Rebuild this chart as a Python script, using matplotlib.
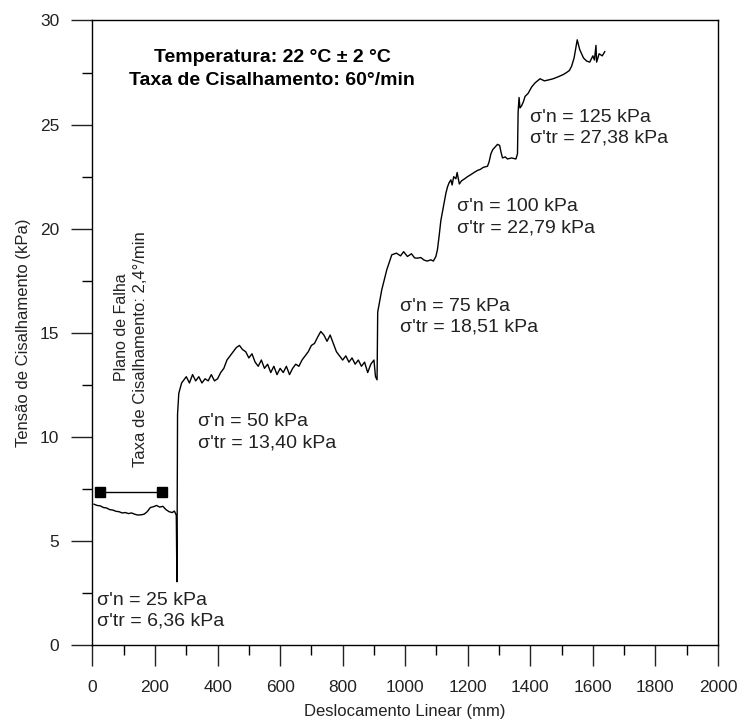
import matplotlib
matplotlib.use("Agg")
import matplotlib.pyplot as plt
from matplotlib.ticker import MultipleLocator

plt.rcParams['font.family'] = ['Liberation Sans', 'DejaVu Sans']

# Shear stress curve (mm, kPa)
disp = [5, 15, 25, 35, 45, 55, 65, 75, 85, 95, 105, 115, 125, 135, 145, 155, 165, 175, 185, 195,
        205, 215, 225, 235, 245, 255, 262, 268, 270,
        272, 276, 285, 300, 310, 320, 330, 340, 350, 360, 370, 380, 390, 400, 410, 420, 430, 440,
        450, 460, 470, 480, 490, 500, 510, 520, 530, 540, 550, 560, 570, 580, 590, 600, 610, 620,
        630, 640, 650, 660, 670, 680, 690, 700, 710, 720, 730, 740, 750, 760, 770, 780, 790, 800,
        810, 820, 830, 840, 850, 860, 870, 880, 890, 900, 905, 910,
        912, 925, 941, 957, 972, 985, 995, 1007, 1020, 1030, 1039, 1050, 1060, 1070, 1082, 1090,
        1098, 1103, 1108, 1114, 1119, 1124, 1130, 1135, 1140, 1146, 1150, 1155, 1162, 1166, 1173,
        1180, 1190, 1199, 1210, 1220, 1231, 1240, 1250, 1263, 1268, 1274, 1280, 1286, 1295, 1302,
        1306, 1311, 1320, 1327, 1340, 1354, 1359, 1361, 1364, 1367, 1372, 1378, 1383, 1393, 1404,
        1415, 1431, 1445, 1460, 1473, 1490, 1505, 1516, 1525, 1532, 1540, 1550, 1558, 1570, 1580,
        1590, 1600, 1605, 1610, 1612, 1620, 1630, 1638]
stress = [6.78, 6.72, 6.70, 6.62, 6.60, 6.52, 6.50, 6.44, 6.42, 6.36, 6.38, 6.33, 6.36, 6.30, 6.26,
          6.27, 6.30, 6.42, 6.62, 6.66, 6.72, 6.64, 6.68, 6.52, 6.42, 6.38, 6.45, 6.25, 3.06,
          11.1, 12.1, 12.6, 12.9, 12.6, 13.0, 12.7, 12.9, 12.6, 12.8, 12.7, 13.0, 12.7, 12.8, 13.1,
          13.3, 13.7, 13.9, 14.1, 14.3, 14.4, 14.2, 14.1, 13.8, 14.0, 13.6, 13.4, 13.7, 13.3, 13.5,
          13.1, 13.4, 13.0, 13.3, 13.1, 13.4, 13.0, 13.3, 13.5, 13.4, 13.7, 13.9, 14.1, 14.4, 14.5,
          14.8, 15.07, 14.9, 14.6, 14.9, 14.5, 14.1, 13.9, 13.7, 13.9, 13.6, 13.8, 13.5, 13.7, 13.4,
          13.6, 13.1, 13.5, 13.7, 12.9, 12.75,
          16.0, 17.07, 18.03, 18.75, 18.83, 18.7, 18.9, 18.67, 18.8, 18.6, 18.59, 18.62, 18.5, 18.45,
          18.51, 18.45, 18.67, 18.99, 19.6, 20.4, 20.8, 21.2, 21.7, 22.0, 22.2, 22.35, 22.1, 22.5,
          22.4, 22.7, 22.15, 22.3, 22.4, 22.5, 22.6, 22.7, 22.8, 22.85, 22.95, 23.0, 23.2, 23.6,
          23.8, 23.9, 24.05, 24.0, 23.7, 23.4, 23.45, 23.35, 23.4, 23.35, 23.6, 25.6, 26.3, 25.8,
          25.9, 26.1, 26.35, 26.5, 26.8, 27.0, 27.2, 27.1, 27.15, 27.2, 27.3, 27.4, 27.5, 27.6, 27.8,
          28.2, 29.07, 28.6, 28.2, 28.05, 28.0, 28.3, 28.1, 28.8, 28.0, 28.4, 28.3, 28.5]

# Failure plane marker line
plane_x = [24, 221]
plane_y = [7.38, 7.38]

# Stage annotations
stage_labels = ["σ'n = 25 kPa\nσ'tr = 6,36 kPa",
                "σ'n = 50 kPa\nσ'tr = 13,40 kPa",
                "σ'n = 75 kPa\nσ'tr = 18,51 kPa",
                "σ'n = 100 kPa\nσ'tr = 22,79 kPa",
                "σ'n = 125 kPa\nσ'tr = 27,38 kPa"]
stage_x = [13, 337, 983, 1164, 1399]
stage_y = [1.67, 10.23, 15.77, 20.55, 24.85]

fig = plt.figure(figsize=(7.41, 7.22), dpi=100)
ax = fig.add_axes([0.1248, 0.106, 0.8441, 0.8657])

ax.plot(disp, stress, color="black", lw=1.0)
ax.plot(plane_x, plane_y, color="black", lw=1.0, marker="s", markersize=7.2)

for t, x, y in zip(stage_labels, stage_x, stage_y):
    ax.text(x, y, t, fontsize=14, color="#222222", va="center", ha="left", linespacing=1.3)

ax.text(574, 27.65, "Temperatura: 22 °C ± 2 °C\nTaxa de Cisalhamento: 60°/min",
        fontsize=14, fontweight="bold", ha="center", va="center", linespacing=1.45)

ax.text(94, 15.29, "Plano de Falha", rotation=90, fontsize=11.5, ha="center", va="center", color="#222222")
ax.text(155, 14.23, "Taxa de Cisalhamento: 2,4°/min", rotation=90, fontsize=12, ha="center",
        va="center", color="#222222")

ax.set_xlim(0, 2000)
ax.set_ylim(0, 30)
ax.xaxis.set_major_locator(MultipleLocator(200))
ax.xaxis.set_minor_locator(MultipleLocator(100))
ax.yaxis.set_major_locator(MultipleLocator(5))
ax.yaxis.set_minor_locator(MultipleLocator(2.5))
ax.tick_params(which="major", direction="out", length=15, width=1, labelsize=12.5, colors="#222222")
ax.tick_params(axis="x", which="major", pad=10)
ax.tick_params(axis="y", which="major", pad=9)
ax.tick_params(which="minor", direction="out", length=7.5, width=1)
ax.set_xlabel("Deslocamento Linear (mm)", fontsize=12, color="#222222", labelpad=6)
ax.set_ylabel("Tensão de Cisalhamento (kPa)", fontsize=12, color="#222222", labelpad=6)
for s in ax.spines.values():
    s.set_linewidth(1.0)

fig.savefig("out.png", dpi=100)
